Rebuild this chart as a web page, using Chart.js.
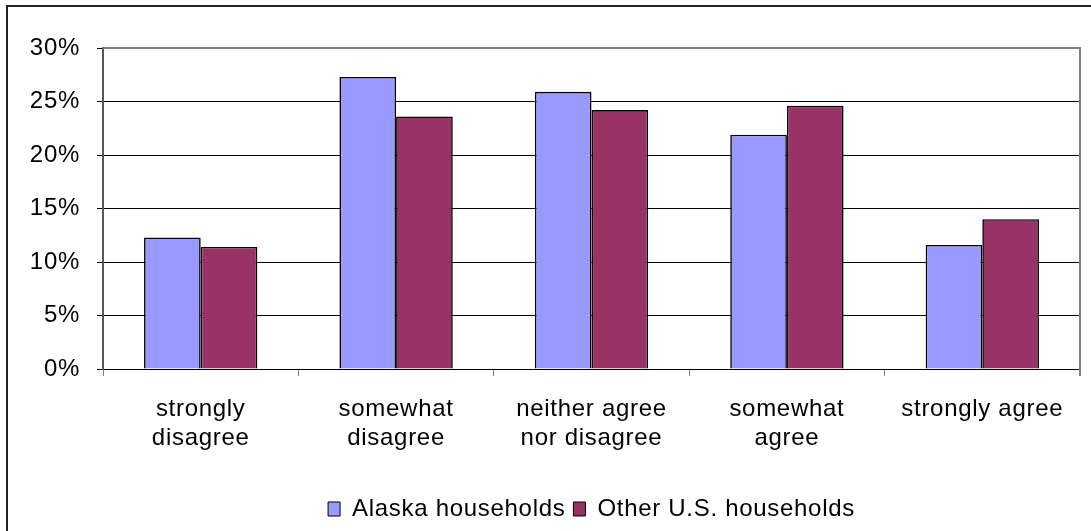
<!DOCTYPE html>
<html>
<head>
<meta charset="utf-8">
<script src="https://cdn.jsdelivr.net/npm/chart.js@4/dist/chart.umd.min.js"></script>
<style>
  html, body { margin: 0; padding: 0; background: #fff; }
  #wrap { width: 1091px; height: 531px; position: relative; }
</style>
</head>
<body>
<div id="wrap"><canvas id="grafico" width="1091" height="531"></canvas></div>
<script>
// categorias e valores (em %)
const categorias = [
    ['strongly', 'disagree'],
    ['somewhat', 'disagree'],
    ['neither agree', 'nor disagree'],
    ['somewhat', 'agree'],
    'strongly agree'
];
const alaska = [12.3, 27.3, 25.9, 21.9, 11.6];
const outrosEUA = [11.4, 23.6, 24.2, 24.6, 14.0];
const ticksY = [0, 5, 10, 15, 20, 25, 30];

const fonte = "'Liberation Sans', Arial, sans-serif";

// texto um pouco mais espaçado, como no original
const espacamento = {
    id: 'espacamento',
    beforeLayout(chart) { chart.ctx.letterSpacing = '0.7px'; },
    beforeDraw(chart) { chart.ctx.letterSpacing = '0.7px'; }
};

// moldura do gráfico e borda da área de plotagem
const moldura = {
    id: 'moldura',
    afterDraw(chart) {
        const ctx = chart.ctx;
        const a = chart.chartArea;
        ctx.save();
        ctx.strokeStyle = '#808080';
        ctx.lineWidth = 2;
        ctx.beginPath();
        ctx.moveTo(a.left, a.top);
        ctx.lineTo(a.right, a.top);
        ctx.lineTo(a.right, a.bottom + 7);
        ctx.stroke();
        ctx.strokeStyle = '#222';
        ctx.lineWidth = 2;
        ctx.beginPath();
        ctx.moveTo(7, 531);
        ctx.lineTo(7, 6);
        ctx.lineTo(1091, 6);
        ctx.stroke();
        ctx.restore();
    }
};

new Chart(document.getElementById('grafico').getContext('2d'), {
    type: 'bar',
    data: {
        labels: categorias,
        datasets: [
            { label: 'Alaska households', data: alaska, backgroundColor: '#9999FF', borderColor: '#000', borderWidth: 1.6 },
            { label: 'Other U.S. households', data: outrosEUA, backgroundColor: '#993366', borderColor: '#000', borderWidth: 1.6 }
        ]
    },
    options: {
        responsive: false,
        animation: false,
        datasets: { bar: { categoryPercentage: 0.58, barPercentage: 1.0 } },
        layout: { padding: { left: 0, top: 48, right: 11, bottom: 0 } },
        plugins: {
            tooltip: { enabled: false },
            legend: {
                position: 'bottom',
                fullSize: false,
                labels: {
                    font: { family: fonte, size: 24 },
                    color: '#000',
                    boxWidth: 12,
                    boxHeight: 14,
                    padding: 8,
                    generateLabels(chart) {
                        return chart.data.datasets.map((d, i) => ({
                            text: d.label, fillStyle: d.backgroundColor, strokeStyle: '#000',
                            lineWidth: 1, datasetIndex: i, fontColor: '#000'
                        }));
                    }
                }
            }
        },
        scales: {
            x: {
                afterFit(scale) { scale.height = 120; },
                grid: { display: true, drawOnChartArea: false, drawTicks: true, tickLength: 7, color: '#808080', offset: true },
                border: { color: '#000', width: 1 },
                ticks: { font: { family: fonte, size: 24 }, color: '#000', padding: 19, maxRotation: 0 }
            },
            y: {
                min: 0,
                max: 30,
                afterFit(scale) { scale.width = 103; },
                afterBuildTicks(scale) { scale.ticks = ticksY.map(v => ({ value: v })); },
                grid: {
                    color: ctx => (ctx.tick && ctx.tick.value === 30) ? '#808080' : '#000',
                    tickColor: '#000',
                    tickLength: 6,
                    lineWidth: 1
                },
                border: { color: '#555', width: 2 },
                ticks: {
                    font: { family: fonte, size: 24 },
                    color: '#000',
                    padding: 17,
                    callback: v => v + '%'
                }
            }
        }
    },
    plugins: [espacamento, moldura]
});
</script>
</body>
</html>
